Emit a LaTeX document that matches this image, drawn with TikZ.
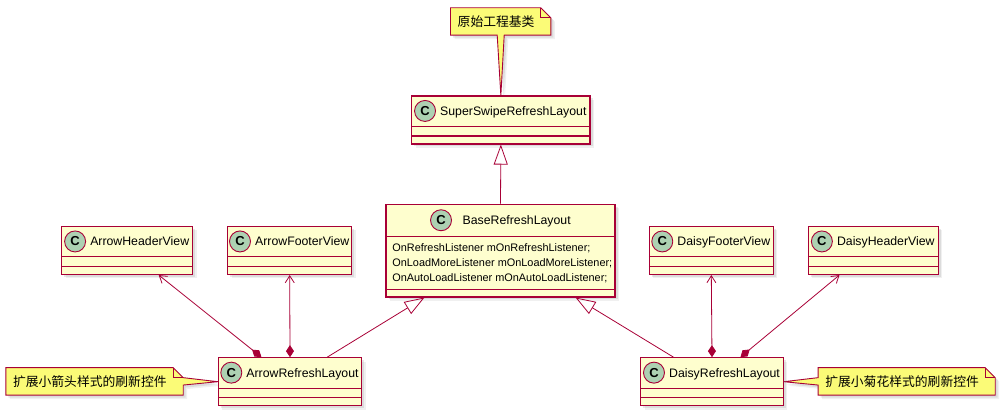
\documentclass[tikz,border=0pt]{standalone}
\usepackage{fontspec}
\setmainfont{Liberation Sans}
\newfontfamily\cjk{Noto Sans CJK SC}
\usetikzlibrary{arrows.meta,positioning,calc,shadows,backgrounds}
\definecolor{umlred}{HTML}{A80036}
\definecolor{classbg}{HTML}{FEFECE}
\definecolor{iconbg}{HTML}{ADD1B2}
\definecolor{notebg}{HTML}{FBFB77}
\tikzset{
  soft shadow/.style={
    drop shadow={shadow xshift=4pt,shadow yshift=-4pt,opacity=0.12},
    drop shadow={shadow xshift=2.5pt,shadow yshift=-2.5pt,opacity=0.18}},
  umlclass/.style={draw=umlred,fill=classbg,line width=1.1pt,minimum height=48,
    inner sep=0pt,soft shadow},
  umlline/.style={draw=umlred,line width=1.1pt},
  classname/.style={font=\fontsize{12.3}{14}\selectfont,inner sep=0pt,
    text height=8.8pt,text depth=0pt},
  classicon/.style={circle,draw=umlred,fill=iconbg,line width=0.9pt,minimum size=21,
    inner sep=0pt,font=\bfseries\fontsize{13}{13}\selectfont},
  fields/.style={font=\fontsize{10.9}{15}\selectfont,align=left,inner sep=0pt},
  notetext/.style={font=\cjk\fontsize{12.8}{15}\selectfont,align=left,
    inner xsep=7pt,inner ysep=0pt,minimum height=27},
  notebox/.style={draw=umlred,fill=notebg,line width=0.9pt,soft shadow},
  noteline/.style={draw=umlred,line width=0.9pt},
  inherit/.style={draw=umlred,line width=0.8pt,-{Triangle[open,length=20pt,width=14pt]}},
  compose/.style={draw=umlred,line width=0.8pt,
    {Diamond[length=12pt,width=8pt]}-{Straight Barb[length=7pt,width=9pt]}},
}

\begin{document}
\begin{tikzpicture}[x=1pt,y=1pt]
  \useasboundingbox (0,0) rectangle (1006,415);

  % classes with empty compartments
  \foreach \id/\cx/\cy/\w/\title in {
      super/500.85/295/178.3/SuperSwipeRefreshLayout,
      ahv/127.2/164.5/131/ArrowHeaderView,
      afv/289.7/164.5/124/ArrowFooterView,
      dfv/711.3/164.5/124/DaisyFooterView,
      dhv/873.3/164.5/130/DaisyHeaderView,
      arl/290/33.3/143.4/ArrowRefreshLayout,
      drl/712/33.3/142.6/DaisyRefreshLayout}{
    \node[umlclass,minimum width=\w] (\id) at (\cx,\cy) {};
    \node[classname] (\id-name) at ($(\id.north)+(12.5,-15.5)$) {\title};
    \node[classicon,left=4pt of \id-name] (\id-icon) {C};
    \draw[umlline] ($(\id.north west)+(0,-31)$) -- ($(\id.north east)+(0,-31)$);
    \draw[umlline] ($(\id.south west)+(0,8.5)$) -- ($(\id.south east)+(0,8.5)$);
  }

  % base class
  \node[umlclass,minimum width=229,minimum height=92.7] (base) at (500.5,164.35) {};
  \node[classname] (base-name) at ($(base.north)+(16.2,-16.5)$) {BaseRefreshLayout};
  \node[classicon,left=10.5pt of base-name] (base-icon) {C};
  \draw[umlline] ($(base.north west)+(0,-33)$) -- ($(base.north east)+(0,-33)$);
  \draw[umlline] ($(base.south west)+(0,7.7)$) -- ($(base.south east)+(0,7.7)$);
  \node[fields,anchor=north west] (base-fields) at ($(base.north west)+(6.7,-40)$)
    {OnRefreshListener mOnRefreshListener;\\
     OnLoadMoreListener mOnLoadMoreListener;\\
     OnAutoLoadListener mOnAutoLoadListener;};

  % notes
  \node[notetext,text width=86] (topnote) at (500.7,393.5) {原始工程基类};
  \node[notetext,text width=163] (leftnote) at (94.5,33.65) {扩展小箭头样式的刷新控件};
  \node[notetext,text width=162.7] (rightnote) at (906.65,33.65) {扩展小菊花样式的刷新控件};
  \begin{scope}[on background layer]
    \path[notebox] (topnote.north west) -- ($(topnote.north east)+(-10,0)$)
      -- ($(topnote.north east)+(0,-10)$) -- (topnote.south east)
      -- ($(topnote.south)+(3.5,0)$) -- (super.north) -- ($(topnote.south)+(-3.5,0)$)
      -- (topnote.south west) -- cycle;
    \draw[noteline] ($(topnote.north east)+(-10,0)$) |- ($(topnote.north east)+(0,-10)$);
    \path[notebox] (leftnote.north west) -- ($(leftnote.north east)+(-10,0)$)
      -- ($(leftnote.north east)+(0,-10)$) -- ($(leftnote.east)+(0,3.7)$)
      -- (arl.west) -- ($(leftnote.east)+(0,-3.7)$) -- (leftnote.south east)
      -- (leftnote.south west) -- cycle;
    \draw[noteline] ($(leftnote.north east)+(-10,0)$) |- ($(leftnote.north east)+(0,-10)$);
    \path[notebox] (rightnote.north west) -- ($(rightnote.north east)+(-10,0)$)
      -- ($(rightnote.north east)+(0,-10)$) -- (rightnote.south east)
      -- (rightnote.south west) -- ($(rightnote.west)+(0,-3.7)$) -- (drl.east)
      -- ($(rightnote.west)+(0,3.7)$) -- cycle;
    \draw[noteline] ($(rightnote.north east)+(-10,0)$) |- ($(rightnote.north east)+(0,-10)$);
  \end{scope}

  % relations
  \draw[inherit] (base.north) -- (super.south);
  \draw[inherit] ($(arl.north east)+(-35,0)$) -- ($(base.south west)+(39,0)$);
  \draw[inherit] ($(drl.north west)+(33.3,0)$) -- ($(base.south east)+(-40,0)$);
  \draw[compose] ($(arl.north west)+(43.7,0)$) -- ($(ahv.south west)+(97.6,0)$);
  \draw[compose] (arl.north) -- (afv.south);
  \draw[compose] (drl.north) -- (dfv.south);
  \draw[compose] ($(drl.north west)+(100.3,0)$) -- ($(dhv.south west)+(31.7,0)$);
\end{tikzpicture}
\end{document}
